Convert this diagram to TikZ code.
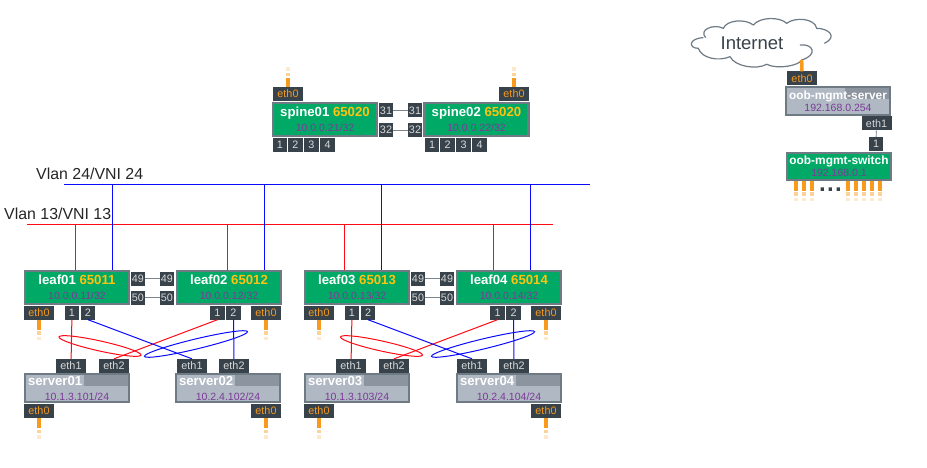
\documentclass[tikz,border=0pt]{standalone}
\usepackage{fontspec}
\setmainfont{Liberation Sans}
\usetikzlibrary{shapes}
\definecolor{swgreen}{HTML}{00AA66}
\definecolor{boxgrey}{HTML}{6E7A84}
\definecolor{srvgrey}{HTML}{B0B8C4}
\definecolor{bandgrey}{HTML}{8C94A0}
\definecolor{tagdark}{HTML}{37424A}
\definecolor{ethorange}{HTML}{F79A1E}
\definecolor{asgold}{HTML}{FFC20E}
\definecolor{ippurple}{HTML}{7A3B96}
\definecolor{linkgrey}{HTML}{7C868E}
\definecolor{vlanred}{HTML}{FF0A14}
\definecolor{vlanblue}{HTML}{0A0AFF}
\newcommand{\ippart}[1]{{\fontsize{10.5}{12}\selectfont\mdseries\textcolor{ippurple}{#1}}}
\newcommand{\stubdown}[1]{
  \draw[stub] (#1.south) -- ++(0,10);
  \draw[stub,ethorange!45] (#1.south) ++(0,11.5) -- ++(0,3.5);
  \draw[stub,ethorange!22] (#1.south) ++(0,17) -- ++(0,3.5);
}
\newcommand{\stubup}[1]{
  \draw[stub] (#1.north) -- ++(0,-9);
  \draw[stub,ethorange!45] (#1.north) ++(0,-10.5) -- ++(0,-3.5);
  \draw[stub,ethorange!22] (#1.north) ++(0,-16) -- ++(0,-3.5);
}
\tikzset{
  swbox/.style={draw=boxgrey,line width=2.4pt,fill=swgreen,text=white,align=center,inner sep=0pt,minimum width=104pt,minimum height=33pt,font=\fontsize{13.2}{15}\selectfont\bfseries},
  srvbox/.style={draw=boxgrey,line width=1.6pt,fill=srvgrey,text=white,align=center,inner sep=0pt,minimum width=104pt,minimum height=28pt,font=\fontsize{13.2}{15}\selectfont\bfseries,
    path picture={\fill[bandgrey] ([shift={(59pt,-1pt)}]path picture bounding box.north west) rectangle ([shift={(-1pt,-12pt)}]path picture bounding box.north east);}},
  mgmtfont/.style={font=\fontsize{11.9}{13}\selectfont\bfseries,minimum height=27pt},
  tagbox/.style={fill=tagdark,text=white!85!black,inner sep=0pt,minimum height=14pt,font=\fontsize{10.8}{12}\selectfont},
  port/.style={tagbox,minimum width=14.5pt},
  eth/.style={tagbox,minimum width=30pt},
  mgmteth/.style={eth,text=ethorange},
  stub/.style={ethorange,line width=3.5pt},
  peer/.style={linkgrey,line width=.9pt},
  redlink/.style={vlanred,line width=1pt},
  bluelink/.style={vlanblue,line width=1pt},
  bond/.style={draw,ellipse,line width=1pt,inner sep=0pt},
  vlanlabel/.style={inner sep=0pt,anchor=base west,text=black!85,font=\fontsize{15.9}{18}\selectfont}
}
\begin{document}
\begin{tikzpicture}[x=1pt,y=-1pt]
  \useasboundingbox (0,0) rectangle (927,468);
  % internet and out of band
  \begin{scope}[shift={(685,15)},x=.3333pt,y=-.3333pt]
    \draw[boxgrey,line width=1.2pt] (62,68) .. controls (40,45) and (85,25) .. (115,40) .. controls (125,15) and (180,10) .. (205,30) .. controls (225,5) and (285,5) .. (305,25) .. controls (330,5) and (390,10) .. (395,40) .. controls (430,40) and (460,65) .. (418,85);
    \draw[boxgrey,line width=1.2pt] (345,90) .. controls (385,85) and (400,120) .. (350,135) .. controls (345,150) and (280,165) .. (245,148) .. controls (215,165) and (150,155) .. (135,125) .. controls (100,140) and (50,130) .. (40,100) .. controls (10,100) and (10,70) .. (55,68);
  \end{scope}
  \node [inner sep=0pt,text=tagdark,font=\fontsize{18.5}{20}\selectfont] (internet) at (752,43) {Internet};
  \coordinate (cloudfoot) at (801.7,60);
  \node [mgmteth] (oobeth0) at (802,78.5) {eth0};
  \draw [stub] (cloudfoot) -- (oobeth0);
  \node [srvbox,mgmtfont,minimum height=28pt] (oobserver) at (838,101) {oob-mgmt-server\\[-1pt]\ippart{192.168.0.254}};
  \node [eth] (oobeth1) at (876.5,123.5) {eth1};
  \node [port] (oobport) at (876,144) {1};
  \draw [peer] (oobeth1) -- (oobport);
  \node [swbox,mgmtfont] (oobswitch) at (839,166.5) {oob-mgmt-switch\\[-1pt]\ippart{192.168.0.1}};
  \coordinate (s1) at (796,181); \coordinate (s2) at (804,181); \coordinate (s3) at (812,181);
  \coordinate (s4) at (848,181); \coordinate (s5) at (856,181); \coordinate (s6) at (864,181);
  \coordinate (s7) at (872,181); \coordinate (s8) at (880,181);
  \stubdown{s1} \stubdown{s2} \stubdown{s3} \stubdown{s4} \stubdown{s5} \stubdown{s6} \stubdown{s7} \stubdown{s8}
  \fill[tagdark] (820.5,187.5) rectangle ++(3.4,3.4) (828.5,187.5) rectangle ++(3.4,3.4) (836.5,187.5) rectangle ++(3.4,3.4);
  % spines
  \node [swbox] (spine01) at (325,119.5) {spine01 \textcolor{asgold}{65020}\\\ippart{10.0.0.21/32}};
  \node [swbox] (spine02) at (476.5,119.5) {spine02 \textcolor{asgold}{65020}\\\ippart{10.0.0.22/32}};
  \node [mgmteth] (spine01eth0) at (288,94) {eth0};
  \node [mgmteth] (spine02eth0) at (514,94) {eth0};
  \stubup{spine01eth0} \stubup{spine02eth0}
  \node [port] (s1p31) at (386,110.5) {31};
  \node [port] (s1p32) at (386,130) {32};
  \node [port] (s2p31) at (415,110.5) {31};
  \node [port] (s2p32) at (415,130) {32};
  \path [peer] (s1p31) edge (s2p31) (s1p32) edge (s2p32);
  \node [port] (s1p1) at (280,145) {1};
  \node [port] (s1p2) at (295.5,145) {2};
  \node [port] (s1p3) at (311.5,145) {3};
  \node [port] (s1p4) at (327.5,145) {4};
  \node [port] (s2p1) at (432,145) {1};
  \node [port] (s2p2) at (447.5,145) {2};
  \node [port] (s2p3) at (463.5,145) {3};
  \node [port] (s2p4) at (479.5,145) {4};
  % leaves
  \node [swbox] (leaf01) at (77,287.5) {leaf01 \textcolor{asgold}{65011}\\\ippart{10.0.0.11/32}};
  \node [swbox] (leaf02) at (229,287.5) {leaf02 \textcolor{asgold}{65012}\\\ippart{10.0.0.12/32}};
  \node [swbox] (leaf03) at (357,287.5) {leaf03 \textcolor{asgold}{65013}\\\ippart{10.0.0.13/32}};
  \node [swbox] (leaf04) at (509,287.5) {leaf04 \textcolor{asgold}{65014}\\\ippart{10.0.0.14/32}};
  \node [port] (l1p49) at (138,278.5) {49};
  \node [port] (l1p50) at (138,297.5) {50};
  \node [port] (l2p49) at (167,278.5) {49};
  \node [port] (l2p50) at (167,297.5) {50};
  \node [port] (l3p49) at (418,278.5) {49};
  \node [port] (l3p50) at (418,297.5) {50};
  \node [port] (l4p49) at (447,278.5) {49};
  \node [port] (l4p50) at (447,297.5) {50};
  \path [peer] (l1p49) edge (l2p49) (l1p50) edge (l2p50) (l3p49) edge (l4p49) (l3p50) edge (l4p50);
  \node [mgmteth] (leaf01eth0) at (39,312.5) {eth0};
  \node [mgmteth] (leaf02eth0) at (266,312.5) {eth0};
  \node [mgmteth] (leaf03eth0) at (319,312.5) {eth0};
  \node [mgmteth] (leaf04eth0) at (546,312.5) {eth0};
  \stubdown{leaf01eth0} \stubdown{leaf02eth0} \stubdown{leaf03eth0} \stubdown{leaf04eth0}
  \node [port] (l1p1) at (72,312.5) {1};
  \node [port] (l1p2) at (88,312.5) {2};
  \node [port] (l2p1) at (217.5,312.5) {1};
  \node [port] (l2p2) at (233.5,312.5) {2};
  \node [port] (l3p1) at (352,312.5) {1};
  \node [port] (l3p2) at (368,312.5) {2};
  \node [port] (l4p1) at (497.5,312.5) {1};
  \node [port] (l4p2) at (513.5,312.5) {2};
  % servers
  \node [srvbox] (server01) at (77,388) {\makebox[98pt][l]{server01}\\\ippart{10.1.3.101/24}};
  \node [srvbox] (server02) at (228,388) {\makebox[98pt][l]{server02}\\\ippart{10.2.4.102/24}};
  \node [srvbox] (server03) at (357,388) {\makebox[98pt][l]{server03}\\\ippart{10.1.3.103/24}};
  \node [srvbox] (server04) at (509,388) {\makebox[98pt][l]{server04}\\\ippart{10.2.4.104/24}};
  \node [eth] (srv1eth1) at (71,366) {eth1};
  \node [eth] (srv1eth2) at (114,366) {eth2};
  \node [eth] (srv2eth1) at (192,366) {eth1};
  \node [eth] (srv2eth2) at (234,366) {eth2};
  \node [eth] (srv3eth1) at (351,366) {eth1};
  \node [eth] (srv3eth2) at (394,366) {eth2};
  \node [eth] (srv4eth1) at (472,366) {eth1};
  \node [eth] (srv4eth2) at (514,366) {eth2};
  \node [mgmteth] (srv1eth0) at (39,411) {eth0};
  \node [mgmteth] (srv2eth0) at (266,411) {eth0};
  \node [mgmteth] (srv3eth0) at (319,411) {eth0};
  \node [mgmteth] (srv4eth0) at (546,411) {eth0};
  \stubdown{srv1eth0} \stubdown{srv2eth0} \stubdown{srv3eth0} \stubdown{srv4eth0}
  % server links and bonds
  \draw [redlink] (l1p1) -- (srv1eth1);
  \draw [redlink] (l2p1.south) -- (srv1eth2.north);
  \draw [bluelink] (l1p2.south) -- (srv2eth1.north);
  \draw [bluelink] (l2p2) -- (srv2eth2);
  \draw [redlink] (l3p1) -- (srv3eth1);
  \draw [redlink] (l4p1.south) -- (srv3eth2.north);
  \draw [bluelink] (l3p2.south) -- (srv4eth1.north);
  \draw [bluelink] (l4p2) -- (srv4eth2);
  \node [bond,vlanred,rotate=-12.5,minimum width=84pt,minimum height=10pt] (bond1) at (100,346) {};
  \node [bond,vlanblue,rotate=13.5,minimum width=106pt,minimum height=10pt] (bond2) at (196,344) {};
  \node [bond,vlanred,rotate=-12.5,minimum width=84pt,minimum height=10pt] (bond3) at (381.5,346) {};
  \node [bond,vlanblue,rotate=13.5,minimum width=106pt,minimum height=10pt] (bond4) at (483,344) {};
  % vlans
  \node [vlanlabel] (vlan24) at (36,179) {Vlan 24/VNI 24};
  \node [vlanlabel] (vlan13) at (4,219.5) {Vlan 13/VNI 13};
  \coordinate (bluewest) at (64,184.5); \coordinate (blueeast) at (590,184.5);
  \coordinate (redwest) at (27,224.5); \coordinate (redeast) at (553,224.5);
  \draw [bluelink] (bluewest) -- (blueeast);
  \draw [redlink] (redwest) -- (redeast);
  \draw [redlink] (leaf01.north -| 75.5,0) -- (75.5,224.5);
  \draw [bluelink] (leaf01.north -| 112.5,0) -- (112.5,184.5);
  \draw [redlink] (leaf02.north -| 227.5,0) -- (227.5,224.5);
  \draw [bluelink] (leaf02.north -| 264.5,0) -- (264.5,184.5);
  \draw [redlink] (leaf03.north -| 344.5,0) -- (344.5,224.5);
  \draw [bluelink] (leaf03.north -| 381.5,0) -- (381.5,184.5);
  \draw [redlink] (leaf04.north -| 493.5,0) -- (493.5,224.5);
  \draw [bluelink] (leaf04.north -| 530.5,0) -- (530.5,184.5);
\end{tikzpicture}
\end{document}
